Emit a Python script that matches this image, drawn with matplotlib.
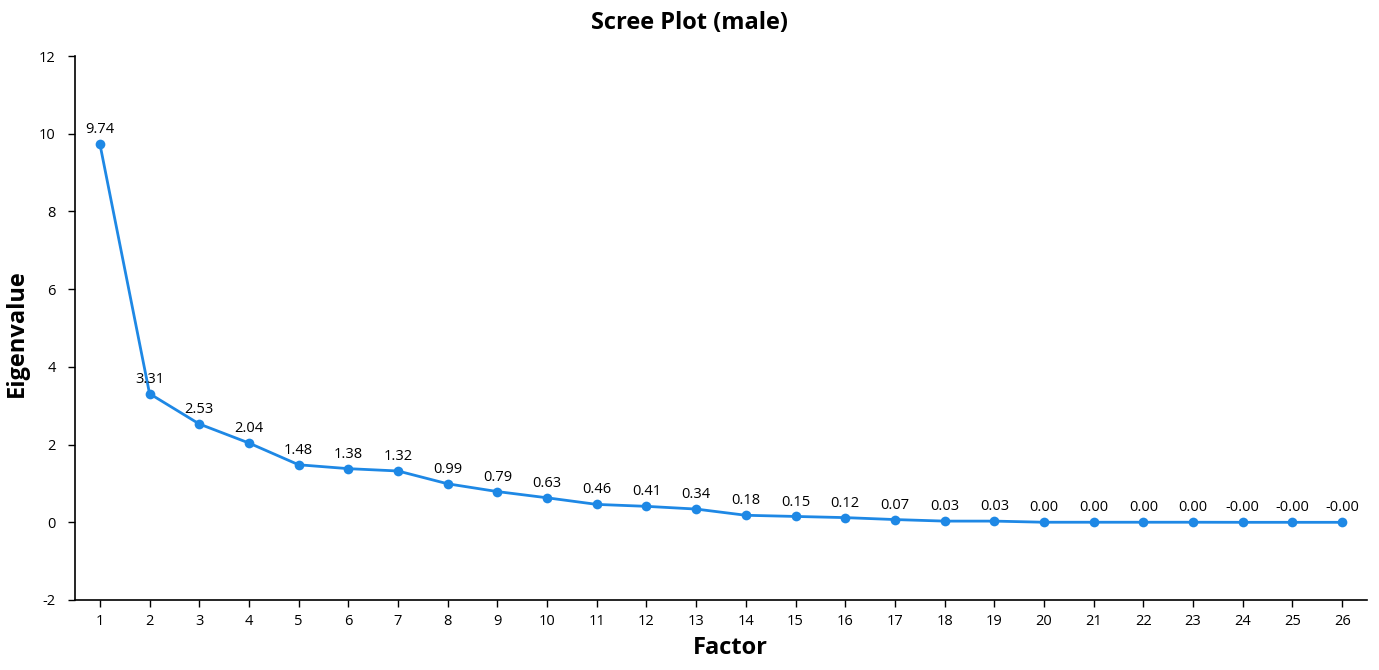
import matplotlib
matplotlib.use("Agg")
import matplotlib.pyplot as plt

plt.rcParams["font.family"] = ["Open Sans", "DejaVu Sans"]
plt.rcParams["axes.unicode_minus"] = False

# eigenvalues per factor
factors = list(range(1, 27))
eigenvalues = [9.74, 3.31, 2.53, 2.04, 1.48, 1.38, 1.32, 0.99, 0.79, 0.63,
               0.46, 0.41, 0.34, 0.18, 0.15, 0.12, 0.07, 0.03, 0.03,
               0.001, 0.001, 0.001, 0.001, -0.001, -0.001, -0.001]
y_ticks = [-2, 0, 2, 4, 6, 8, 10, 12]

color = "#1E88E5"

fig = plt.figure(figsize=(13.79, 6.70), dpi=100)
ax = fig.add_axes([0.0544, 0.1045, 0.9369, 0.8119])

ax.plot(factors, eigenvalues, color=color, lw=2, marker="o", ms=7,
        markeredgewidth=0)
for x, y in zip(factors, eigenvalues):
    ax.annotate("%.2f" % y, (x, y), xytext=(0, 5), textcoords="offset points",
                ha="center", va="bottom", fontsize=10.5)

ax.set_xlim(0.5, 26.5)
ax.set_ylim(-2, 12)
ax.set_xticks(factors)
ax.set_yticks(y_ticks)
ax.tick_params(labelsize=10.5, length=5, width=1, direction="out")
ax.tick_params(axis="y", pad=9)
ax.tick_params(axis="x", pad=5)
for s in ["top", "right"]:
    ax.spines[s].set_visible(False)
for s in ["left", "bottom"]:
    ax.spines[s].set_linewidth(1.2)

fig.text(0.5, 0.965, "Scree Plot (male)", fontsize=17, fontweight="bold",
         ha="center", va="center")
ax.set_xlabel("Factor", fontsize=17, fontweight="bold")
ax.xaxis.set_label_coords(0.507, -0.066)
ax.set_ylabel("Eigenvalue", fontsize=17, fontweight="bold")
ax.yaxis.set_label_coords(-0.036, 0.49)

fig.savefig("out.png", dpi=100)
